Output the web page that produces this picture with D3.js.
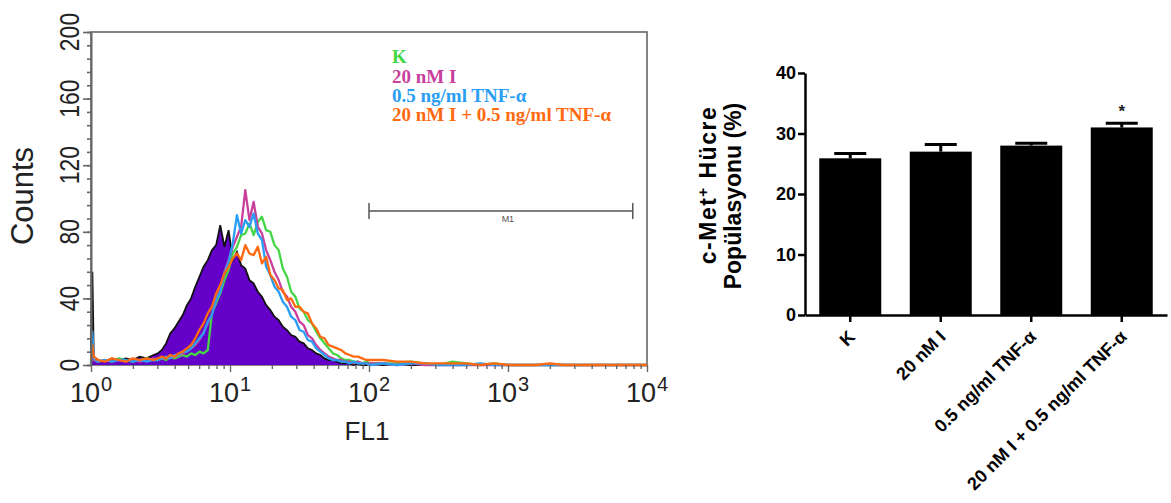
<!DOCTYPE html>
<html>
<head>
<meta charset="utf-8">
<script src="https://cdn.jsdelivr.net/npm/d3@7"></script>
<style>
  body { margin: 0; background: #fff; }
  svg { display: block; }
</style>
</head>
<body>
<div id="chart"></div>
<script>
// FL1 channel positions, in decades (log10 of FL1)
var fl1Decade = [0, 0.01, 0.02, 0.05, 0.10, 0.15, 0.20, 0.25, 0.30, 0.35, 0.40, 0.45,
  0.48, 0.51, 0.54, 0.57, 0.60, 0.63, 0.66, 0.69, 0.72, 0.75, 0.78, 0.81, 0.84, 0.87, 0.90, 0.93, 0.96, 0.99,
  1.02, 1.05, 1.08, 1.11, 1.14, 1.17, 1.20, 1.23, 1.26, 1.29, 1.32, 1.35, 1.38, 1.41, 1.44, 1.47, 1.50, 1.53, 1.56, 1.59,
  1.62, 1.65, 1.68, 1.71, 1.74, 1.77, 1.80, 1.83, 1.86, 1.89, 1.92, 1.95, 1.98, 2.01,
  2.1, 2.2, 2.3, 2.4, 2.5, 2.6, 2.7, 2.8, 2.9, 3.0, 3.1, 3.2, 3.3, 3.4, 3.5, 3.6, 3.7, 3.8, 3.9, 4.0];

// filled control histogram (purple)
var isotypeCounts = [2, 56, 5, 3, 2, 4, 3, 4, 3, 5, 4, 6,
  7, 9, 13, 19, 22, 26, 30, 36, 40, 47, 53, 59, 63, 69, 72, 84, 71, 81,
  63, 68, 60, 58, 51, 49, 44, 41, 36, 33, 29, 27, 23, 21, 18, 17, 14, 13, 10, 9,
  7, 6, 4, 3, 3, 2, 1, 1, 1, 0, 1, 0, 0, 1,
  0, 1, 0, 0, 0, 0, 0, 0, 0, 0, 0, 0, 0, 0, 0, 0, 0, 0, 0, 0];

var kCounts = [2, 8, 3, 2, 3, 2, 4, 3, 2, 3, 4, 3,
  3, 4, 3, 5, 4, 5, 6, 5, 7, 6, 8, 7, 9, 31, 37, 43, 51, 57,
  67, 71, 78, 79, 85, 78, 86, 89, 81, 80, 72, 69, 58, 53, 44, 41, 34, 32, 27, 25,
  20, 16, 13, 10, 7, 6, 4, 3, 3, 2, 2, 1, 2, 1,
  1, 1, 2, 1, 0, 2, 1, 0, 1, 0, 0, 0, 0, 0, 0, 0, 0, 0, 0, 0];

var inhibitorCounts = [2, 6, 3, 2, 3, 2, 3, 2, 3, 2, 3, 4,
  3, 4, 4, 5, 5, 6, 7, 8, 10, 12, 15, 20, 25, 31, 39, 46, 56, 63,
  71, 77, 83, 105, 87, 98, 83, 79, 69, 63, 56, 51, 44, 41, 35, 32, 26, 24, 18, 16,
  12, 9, 7, 5, 4, 3, 3, 2, 2, 1, 2, 1, 1, 1,
  1, 0, 1, 0, 0, 0, 0, 0, 0, 0, 0, 0, 0, 0, 0, 0, 0, 0, 0, 0];

var tnfCounts = [2, 20, 4, 2, 3, 2, 3, 3, 2, 3, 2, 3,
  3, 4, 5, 4, 6, 6, 8, 8, 10, 13, 16, 19, 26, 30, 39, 44, 55, 62,
  73, 90, 79, 87, 83, 91, 79, 75, 59, 54, 47, 44, 38, 35, 29, 27, 21, 20, 15, 14,
  10, 8, 6, 4, 3, 3, 2, 2, 1, 2, 1, 1, 1, 0,
  1, 0, 1, 1, 0, 0, 0, 1, 0, 0, 0, 0, 0, 0, 0, 0, 0, 0, 0, 0];

var comboCounts = [3, 12, 5, 3, 2, 4, 3, 2, 4, 3, 4, 3,
  4, 5, 4, 6, 5, 7, 8, 10, 12, 16, 21, 25, 31, 35, 43, 48, 55, 59,
  64, 67, 63, 72, 67, 66, 71, 61, 65, 54, 51, 46, 45, 39, 40, 35, 35, 32, 31, 25,
  22, 17, 16, 12, 11, 10, 9, 7, 6, 5, 5, 4, 3, 3,
  3, 2, 2, 1, 1, 1, 1, 0, 1, 0, 0, 0, 1, 0, 0, 0, 0, 0, 0, 0];

var legendLabels = ["K", "20 nM I", "0.5 ng/ml TNF-\u03b1", "20 nM I + 0.5 ng/ml TNF-\u03b1"];
var lineColors = ["#44d644", "#c8409c", "#2a9df4", "#ff6a10"];
var countTicks = [0, 40, 80, 120, 160, 200];
var decadeTicks = [1, 10, 100, 1000, 10000];
var m1Gate = [100, 7900];

// bar chart
var groups = ["K", "20 nM I", "0.5 ng/ml TNF-\u03b1", "20 nM I + 0.5 ng/ml TNF-\u03b1"];
var cmetPercent = [25.9, 27.0, 28.0, 31.0];
var cmetSem = [0.8, 1.2, 0.4, 0.7];
var significant = ["", "", "", "*"];
var percentTicks = [0, 10, 20, 30, 40];

var width = 1171;
var height = 503;
var sans = "'Liberation Sans', Arial, Helvetica, sans-serif";

var svg = d3
  .select("#chart")
  .append("svg")
  .attr("width", width)
  .attr("height", height);

svg.append("rect").attr("width", width).attr("height", height).attr("fill", "#fff");

// ---------- histogram ----------
var x = d3.scaleLog().domain([1, 10000]).range([91, 647]);
var y = d3.scaleLinear().domain([0, 200]).range([365, 32]);

var frameColor = "#666";

svg.append("rect")
  .attr("x", x(1))
  .attr("y", y(200))
  .attr("width", x(10000) - x(1))
  .attr("height", y(0) - y(200))
  .attr("fill", "none")
  .attr("stroke", frameColor)
  .attr("stroke-width", 1.6);

function toPoints(counts) {
  return fl1Decade.map(function (d, i) {
    return { fl1: Math.pow(10, d), count: counts[i] };
  });
}

var area = d3.area()
  .x(function (d) { return x(d.fl1); })
  .y0(y(0))
  .y1(function (d) { return y(d.count); });

var line = d3.line()
  .x(function (d) { return x(d.fl1); })
  .y(function (d) { return y(d.count); });

var isotype = toPoints(isotypeCounts);
svg.append("path")
  .attr("d", area(isotype))
  .attr("fill", "#6400c8");
svg.append("path")
  .attr("d", line(isotype))
  .attr("fill", "none")
  .attr("stroke", "#111")
  .attr("stroke-width", 1.8);

var series = [kCounts, inhibitorCounts, tnfCounts, comboCounts];
series.forEach(function (counts, i) {
  svg.append("path")
    .attr("d", line(toPoints(counts)))
    .attr("fill", "none")
    .attr("stroke", lineColors[i])
    .attr("stroke-width", 2.3)
    .attr("stroke-linejoin", "round");
});

// y axis: minor ticks every 8, major every 40
var yAxisMinor = d3.axisLeft(y).tickValues(d3.range(0, 201, 8)).tickSize(4).tickFormat("").tickSizeOuter(0);
var yAxisMajor = d3.axisLeft(y).tickValues(countTicks).tickSize(8).tickFormat("").tickSizeOuter(0);
[yAxisMinor, yAxisMajor].forEach(function (ax) {
  var g = svg.append("g").attr("transform", "translate(" + x(1) + ",0)").call(ax);
  g.selectAll("path,line").attr("stroke", frameColor).attr("stroke-width", 1.6);
});

svg.selectAll(".ylab")
  .data(countTicks)
  .enter()
  .append("text")
  .attr("class", "ylab")
  .attr("transform", function (d) {
    return "translate(79," + y(d) + ") rotate(-90) scale(0.82,1)";
  })
  .attr("text-anchor", "middle")
  .attr("font-family", sans)
  .attr("font-size", 28)
  .attr("fill", "#222")
  .text(function (d) { return d; });

svg.append("text")
  .attr("transform", "translate(33,196) rotate(-90)")
  .attr("text-anchor", "middle")
  .attr("font-family", sans)
  .attr("font-size", 31)
  .attr("fill", "#222")
  .text("Counts");

// x axis: log minor ticks
var minorFl1 = [];
decadeTicks.slice(0, 4).forEach(function (dec) {
  for (var k = 2; k <= 9; k++) minorFl1.push(dec * k);
});
var xAxisMinor = d3.axisBottom(x).tickValues(minorFl1).tickSize(4).tickFormat("").tickSizeOuter(0);
var xAxisMajor = d3.axisBottom(x).tickValues(decadeTicks).tickSize(7).tickFormat("").tickSizeOuter(0);
[xAxisMinor, xAxisMajor].forEach(function (ax) {
  var g = svg.append("g").attr("transform", "translate(0," + y(0) + ")").call(ax);
  g.selectAll("path").remove();
  g.selectAll("line").attr("stroke", frameColor).attr("stroke-width", 1.4);
});

var xlab = svg.selectAll(".xlab")
  .data(decadeTicks)
  .enter()
  .append("text")
  .attr("class", "xlab")
  .attr("x", function (d) { return x(d); })
  .attr("y", 402)
  .attr("text-anchor", "middle")
  .attr("font-family", sans)
  .attr("font-size", 27)
  .attr("fill", "#222");
xlab.append("tspan").text("10");
xlab.append("tspan")
  .attr("dy", -11)
  .attr("dx", 1)
  .attr("font-size", 20)
  .text(function (d) { return Math.round(Math.log10(d)); });

svg.append("text")
  .attr("x", 367)
  .attr("y", 440)
  .attr("text-anchor", "middle")
  .attr("font-family", sans)
  .attr("font-size", 26)
  .attr("fill", "#222")
  .text("FL1");

// M1 gate marker
var gy = 211;
svg.append("line")
  .attr("x1", x(m1Gate[0])).attr("x2", x(m1Gate[1]))
  .attr("y1", gy).attr("y2", gy)
  .attr("stroke", "#555").attr("stroke-width", 1.5);
m1Gate.forEach(function (v) {
  svg.append("line")
    .attr("x1", x(v)).attr("x2", x(v))
    .attr("y1", gy - 8).attr("y2", gy + 8)
    .attr("stroke", "#555").attr("stroke-width", 1.5);
});
svg.append("text")
  .attr("x", x(Math.sqrt(m1Gate[0] * m1Gate[1])) + 7)
  .attr("y", gy + 11)
  .attr("text-anchor", "middle")
  .attr("font-family", sans)
  .attr("font-size", 9)
  .attr("fill", "#555")
  .text("M1");

// legend
svg.selectAll(".leg")
  .data(legendLabels)
  .enter()
  .append("text")
  .attr("class", "leg")
  .attr("x", 392)
  .attr("y", function (d, i) { return [63, 83, 102, 121][i]; })
  .attr("font-family", "'Liberation Serif', 'Times New Roman', serif")
  .attr("font-weight", "bold")
  .attr("font-size", 19)
  .attr("fill", function (d, i) { return lineColors[i]; })
  .text(function (d) { return d; });

// ---------- bar chart ----------
var bx = d3.scaleBand().domain(groups).range([805, 1167]).paddingInner(0.315).paddingOuter(0.1575);
var by = d3.scaleLinear().domain([0, 40]).range([315, 73]);

svg.selectAll(".bar")
  .data(cmetPercent)
  .enter()
  .append("rect")
  .attr("class", "bar")
  .attr("x", function (d, i) { return bx(groups[i]); })
  .attr("y", function (d) { return by(d); })
  .attr("width", bx.bandwidth())
  .attr("height", function (d) { return by(0) - by(d); })
  .attr("fill", "#000");

cmetPercent.forEach(function (v, i) {
  var cx = bx(groups[i]) + bx.bandwidth() / 2;
  var top = by(v + cmetSem[i]);
  svg.append("line")
    .attr("x1", cx).attr("x2", cx)
    .attr("y1", by(v)).attr("y2", top)
    .attr("stroke", "#000").attr("stroke-width", 3);
  svg.append("line")
    .attr("x1", cx - 16).attr("x2", cx + 16)
    .attr("y1", top).attr("y2", top)
    .attr("stroke", "#000").attr("stroke-width", 3);
  if (significant[i]) {
    svg.append("text")
      .attr("x", cx)
      .attr("y", top - 6)
      .attr("text-anchor", "middle")
      .attr("font-family", sans)
      .attr("font-weight", "bold")
      .attr("font-size", 17)
      .attr("fill", "#222")
      .text(significant[i]);
  }
});

var gy2 = svg.append("g")
  .attr("transform", "translate(805,0)")
  .call(d3.axisLeft(by).tickValues(percentTicks).tickSize(7).tickPadding(2).tickSizeOuter(0));
gy2.selectAll("path,line").attr("stroke", "#000").attr("stroke-width", 2.5);
gy2.selectAll("text")
  .attr("font-family", sans)
  .attr("font-weight", "bold")
  .attr("font-size", 18)
  .attr("fill", "#000");

var gx2 = svg.append("g")
  .attr("transform", "translate(0,315)")
  .call(d3.axisBottom(bx).tickSize(7).tickSizeOuter(0).tickFormat(""));
gx2.selectAll("path,line").attr("stroke", "#000").attr("stroke-width", 2.5);

svg.selectAll(".blab")
  .data(groups)
  .enter()
  .append("text")
  .attr("class", "blab")
  .attr("transform", function (d) {
    return "translate(" + (bx(d) + bx.bandwidth() / 2 + 6) + ",338) rotate(-45)";
  })
  .attr("text-anchor", "end")
  .attr("font-family", sans)
  .attr("font-weight", "bold")
  .attr("font-size", 18)
  .attr("fill", "#000")
  .text(function (d) { return d; });

var ylab2 = svg.append("g").attr("transform", "translate(0,196) rotate(-90)");
var l1 = ylab2.append("text")
  .attr("x", 11)
  .attr("y", 716)
  .attr("text-anchor", "middle")
  .attr("font-family", sans)
  .attr("font-weight", "bold")
  .attr("font-size", 23)
  .attr("letter-spacing", 1.5)
  .attr("fill", "#000");
l1.append("tspan").text("c-Met");
l1.append("tspan").attr("baseline-shift", "super").attr("font-size", 15).text("+");
l1.append("tspan").text(" H\u00fccre");
ylab2.append("text")
  .attr("x", 0)
  .attr("y", 741)
  .attr("text-anchor", "middle")
  .attr("font-family", sans)
  .attr("font-weight", "bold")
  .attr("font-size", 23)
  .attr("fill", "#000")
  .text("Pop\u00fclasyonu (%)");
</script>
</body>
</html>
